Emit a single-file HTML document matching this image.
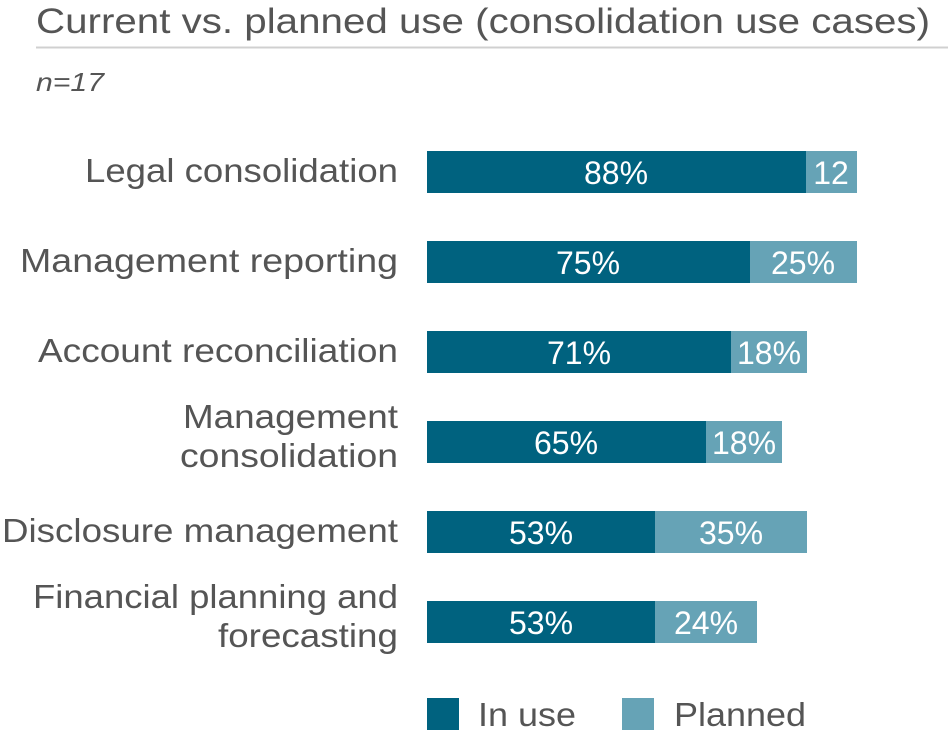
<!DOCTYPE html>
<html><head><meta charset="utf-8"><style>
body{margin:0;background:#fff;}
svg{display:block;font-family:"Liberation Sans",sans-serif;}
</style></head><body>
<svg width="948" height="736" viewBox="0 0 948 736">
<text x="36" y="33" font-size="35" fill="#555" textLength="894" lengthAdjust="spacingAndGlyphs">Current vs. planned use (consolidation use cases)</text>
<line x1="36" y1="47.5" x2="948" y2="47.5" stroke="#d0d0d0" stroke-width="2"/>
<text x="36" y="91" font-size="26" font-style="italic" fill="#555" textLength="68" lengthAdjust="spacingAndGlyphs">n=17</text>
<g font-size="33" fill="#555" lengthAdjust="spacingAndGlyphs">
<text x="85" y="182" textLength="313" lengthAdjust="spacingAndGlyphs">Legal consolidation</text>
<text x="20" y="272" textLength="378" lengthAdjust="spacingAndGlyphs">Management reporting</text>
<text x="38" y="362" textLength="360" lengthAdjust="spacingAndGlyphs">Account reconciliation</text>
<text x="183" y="428" textLength="215" lengthAdjust="spacingAndGlyphs">Management</text>
<text x="180" y="467" textLength="218" lengthAdjust="spacingAndGlyphs">consolidation</text>
<text x="2" y="542" textLength="396" lengthAdjust="spacingAndGlyphs">Disclosure management</text>
<text x="33" y="608" textLength="365" lengthAdjust="spacingAndGlyphs">Financial planning and</text>
<text x="218" y="647" textLength="180" lengthAdjust="spacingAndGlyphs">forecasting</text>
</g>
<g>
<rect x="427" y="151" width="379" height="42" fill="#00627f"/><rect x="806" y="151" width="51" height="42" fill="#66a3b6"/>
<rect x="427" y="241" width="323" height="42" fill="#00627f"/><rect x="750" y="241" width="107" height="42" fill="#66a3b6"/>
<rect x="427" y="331" width="304" height="42" fill="#00627f"/><rect x="731" y="331" width="76" height="42" fill="#66a3b6"/>
<rect x="427" y="421" width="279" height="42" fill="#00627f"/><rect x="706" y="421" width="76" height="42" fill="#66a3b6"/>
<rect x="427" y="511" width="228" height="42" fill="#00627f"/><rect x="655" y="511" width="152" height="42" fill="#66a3b6"/>
<rect x="427" y="601" width="228" height="42" fill="#00627f"/><rect x="655" y="601" width="102" height="42" fill="#66a3b6"/>
</g>
<g font-size="32" fill="#fff" text-anchor="middle">
<text x="616" y="184">88%</text><text x="831" y="184">12</text>
<text x="588" y="274">75%</text><text x="803" y="274">25%</text>
<text x="579" y="364">71%</text><text x="769" y="364">18%</text>
<text x="566" y="454">65%</text><text x="744" y="454">18%</text>
<text x="541" y="544">53%</text><text x="731" y="544">35%</text>
<text x="541" y="634">53%</text><text x="706" y="634">24%</text>
</g>
<rect x="427" y="698" width="32" height="32" fill="#00627f"/>
<text x="478" y="726" font-size="33" fill="#555" textLength="98" lengthAdjust="spacingAndGlyphs">In use</text>
<rect x="622" y="698" width="32" height="32" fill="#66a3b6"/>
<text x="674" y="726" font-size="33" fill="#555" textLength="132" lengthAdjust="spacingAndGlyphs">Planned</text>
</svg>
</body></html>
